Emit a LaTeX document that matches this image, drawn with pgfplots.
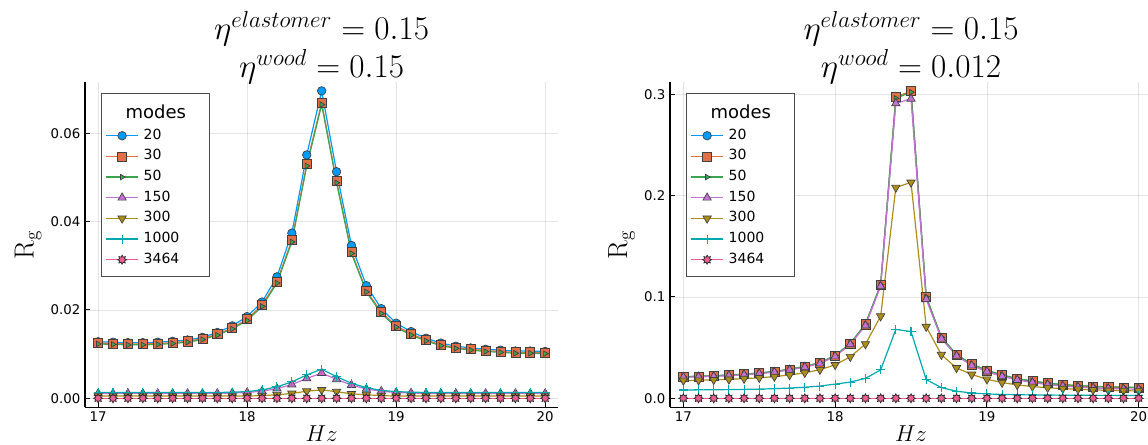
\documentclass[border=0pt]{standalone}
\usepackage[no-math]{fontspec}
\setmainfont{DejaVu Sans}
\usepackage{pgfplots}
\usepackage{pgfplotstable}
\pgfplotsset{compat=1.18}
\definecolor{c1}{RGB}{0,154,250}
\definecolor{c2}{RGB}{227,111,71}
\definecolor{c3}{RGB}{62,164,78}
\definecolor{c4}{RGB}{195,113,210}
\definecolor{c5}{RGB}{172,142,24}
\definecolor{c6}{RGB}{0,169,173}
\definecolor{c7}{RGB}{237,94,147}

\pgfdeclareplotmark{starviii}{%
  \pgfpathmoveto{\pgfqpointpolar{90}{\pgfplotmarksize}}%
  \pgfpathlineto{\pgfqpointpolar{112.5}{0.6\pgfplotmarksize}}%
  \pgfpathlineto{\pgfqpointpolar{135}{\pgfplotmarksize}}%
  \pgfpathlineto{\pgfqpointpolar{157.5}{0.6\pgfplotmarksize}}%
  \pgfpathlineto{\pgfqpointpolar{180}{\pgfplotmarksize}}%
  \pgfpathlineto{\pgfqpointpolar{202.5}{0.6\pgfplotmarksize}}%
  \pgfpathlineto{\pgfqpointpolar{225}{\pgfplotmarksize}}%
  \pgfpathlineto{\pgfqpointpolar{247.5}{0.6\pgfplotmarksize}}%
  \pgfpathlineto{\pgfqpointpolar{270}{\pgfplotmarksize}}%
  \pgfpathlineto{\pgfqpointpolar{292.5}{0.6\pgfplotmarksize}}%
  \pgfpathlineto{\pgfqpointpolar{315}{\pgfplotmarksize}}%
  \pgfpathlineto{\pgfqpointpolar{337.5}{0.6\pgfplotmarksize}}%
  \pgfpathlineto{\pgfqpointpolar{0}{\pgfplotmarksize}}%
  \pgfpathlineto{\pgfqpointpolar{22.5}{0.6\pgfplotmarksize}}%
  \pgfpathlineto{\pgfqpointpolar{45}{\pgfplotmarksize}}%
  \pgfpathlineto{\pgfqpointpolar{67.5}{0.6\pgfplotmarksize}}%
  \pgfpathclose
  \pgfusepathqfillstroke
}

\pgfplotstableread{
x s20 s30 s50 s150 s300 s1000 s3464
17.0 0.0128 0.0125 0.0123 0.0011 0.0005 0.0013 0
17.1 0.0127 0.0124 0.0122 0.0011 0.0005 0.0013 0
17.2 0.0126 0.0123 0.0121 0.0011 0.0005 0.0013 0
17.3 0.0126 0.0123 0.0121 0.0011 0.0005 0.0013 0
17.4 0.0127 0.0124 0.0122 0.0011 0.0005 0.0013 0
17.5 0.0129 0.0126 0.0124 0.0011 0.0005 0.0013 0
17.6 0.0132 0.0129 0.0127 0.0011 0.0005 0.0013 0
17.7 0.0138 0.0135 0.0133 0.0011 0.0005 0.0013 0
17.8 0.0149 0.0145 0.0143 0.0011 0.0005 0.0013 0
17.9 0.0164 0.0159 0.0157 0.0012 0.0005 0.0014 0
18.0 0.0185 0.0179 0.0176 0.0013 0.0005 0.0015 0
18.1 0.0218 0.0211 0.0208 0.0016 0.0006 0.0019 0
18.2 0.0275 0.0264 0.0261 0.0022 0.0008 0.0026 0
18.3 0.0374 0.0358 0.0354 0.0031 0.0011 0.0037 0
18.4 0.0551 0.0530 0.0526 0.0045 0.0016 0.0053 0
18.5 0.0696 0.0669 0.0665 0.0057 0.0019 0.0066 0
18.6 0.0513 0.0492 0.0488 0.0043 0.0015 0.0049 0
18.7 0.0346 0.0331 0.0328 0.0030 0.0010 0.0034 0
18.8 0.0255 0.0244 0.0241 0.0021 0.0008 0.0024 0
18.9 0.0203 0.0195 0.0192 0.0016 0.0006 0.0018 0
19.0 0.0170 0.0164 0.0161 0.0013 0.0005 0.0015 0
19.1 0.0151 0.0146 0.0143 0.0012 0.0005 0.0014 0
19.2 0.0136 0.0132 0.0130 0.0011 0.0005 0.0013 0
19.3 0.0125 0.0121 0.0119 0.0011 0.0005 0.0013 0
19.4 0.0118 0.0115 0.0113 0.0011 0.0005 0.0013 0
19.5 0.0114 0.0111 0.0109 0.0011 0.0005 0.0013 0
19.6 0.0111 0.0108 0.0106 0.0011 0.0005 0.0013 0
19.7 0.0109 0.0106 0.0104 0.0011 0.0005 0.0013 0
19.8 0.0107 0.0104 0.0102 0.0011 0.0005 0.0013 0
19.9 0.0107 0.0104 0.0102 0.0011 0.0005 0.0013 0
20.0 0.0106 0.0103 0.0101 0.0011 0.0005 0.0013 0
}\leftdata

\pgfplotstableread{
x s20 s30 s50 s150 s300 s1000 s3464
17.0 0.0212 0.0212 0.0214 0.0207 0.0175 0.0082 0
17.1 0.0216 0.0216 0.0218 0.0211 0.0178 0.0083 0
17.2 0.0221 0.0221 0.0223 0.0216 0.0182 0.0084 0
17.3 0.0228 0.0228 0.0230 0.0223 0.0187 0.0086 0
17.4 0.0237 0.0237 0.0239 0.0232 0.0194 0.0088 0
17.5 0.0248 0.0248 0.0250 0.0243 0.0202 0.0091 0
17.6 0.0263 0.0263 0.0265 0.0258 0.0214 0.0095 0
17.7 0.0285 0.0285 0.0287 0.0280 0.0230 0.0101 0
17.8 0.0313 0.0313 0.0315 0.0307 0.0252 0.0109 0
17.9 0.0350 0.0350 0.0352 0.0344 0.0282 0.0121 0
18.0 0.0420 0.0420 0.0422 0.0413 0.0330 0.0140 0
18.1 0.0540 0.0540 0.0542 0.0532 0.0410 0.0160 0
18.2 0.0730 0.0730 0.0732 0.0718 0.0535 0.0197 0
18.3 0.1120 0.1120 0.1120 0.1105 0.0810 0.0280 0
18.4 0.2970 0.2970 0.2960 0.2910 0.2080 0.0680 0
18.5 0.3030 0.3030 0.3020 0.2955 0.2130 0.0658 0
18.6 0.1000 0.1000 0.1002 0.0977 0.0707 0.0185 0
18.7 0.0600 0.0600 0.0602 0.0588 0.0430 0.0105 0
18.8 0.0430 0.0430 0.0432 0.0419 0.0300 0.0070 0
18.9 0.0335 0.0335 0.0337 0.0324 0.0235 0.0052 0
19.0 0.0275 0.0275 0.0277 0.0263 0.0188 0.0043 0
19.1 0.0228 0.0228 0.0230 0.0216 0.0155 0.0038 0
19.2 0.0193 0.0193 0.0195 0.0181 0.0132 0.0035 0
19.3 0.0168 0.0168 0.0170 0.0155 0.0116 0.0033 0
19.4 0.0148 0.0148 0.0150 0.0135 0.0104 0.0032 0
19.5 0.0133 0.0133 0.0135 0.0121 0.0096 0.0031 0
19.6 0.0123 0.0123 0.0125 0.0110 0.0089 0.0030 0
19.7 0.0116 0.0116 0.0118 0.0102 0.0083 0.0029 0
19.8 0.0111 0.0111 0.0113 0.0096 0.0078 0.0029 0
19.9 0.0107 0.0107 0.0109 0.0092 0.0075 0.0028 0
20.0 0.0105 0.0105 0.0107 0.0089 0.0072 0.0028 0
}\rightdata

\pgfplotsset{
  panel/.style={
    scale only axis, anchor=south west,
    height=244.2pt,
    xmin=16.912, xmax=20.088,
    xtick={17,18,19,20},
    axis x line*=bottom, axis y line*=left,
    axis line style={line width=0.9pt, black},
    tick align=inside, major tick length=4pt,
    tick style={line width=0.7pt, black},
    grid=major, grid style={black, opacity=0.1, line width=0.5pt},
    tick label style={font=\fontsize{10}{12}\selectfont, black},
    /pgf/number format/assume math mode=true,
    scaled y ticks=false,
    title style={font=\fontsize{25.5}{28.2}\selectfont, align=center, at={(0.5,1)}, anchor=south, inner sep=0pt, yshift=-7.6pt},
    xlabel={$Hz$}, ylabel={$\mathrm{R_g}$},
    label style={font=\fontsize{20}{24}\selectfont},
    xlabel style={font=\fontsize{17}{20}\selectfont, at={(axis description cs:0.5,0)}, anchor=base, inner sep=0pt, yshift=-25.6pt},
    legend style={at={(0,1)}, anchor=north west, xshift=11.8pt, yshift=-8.7pt,
      draw=black!70, line width=0.75pt, fill=white,
      inner xsep=3.2pt, inner ysep=4.6pt, row sep=0pt, column sep=3.75pt,
      font=\fontsize{10.5}{12}\selectfont,
      nodes={inner sep=0pt, inner ysep=2.75pt, text height=7.6pt, text depth=2.4pt, text width=46pt, align=left}},
    legend cell align=left,
    legend image code/.code={\draw[mark repeat=2,mark phase=2,##1] plot coordinates {(0pt,0pt) (12pt,0pt) (24pt,0pt)};},
  },
  p20/.style={c1, line width=0.9pt, mark=*, mark size=3.2pt, mark options={fill=c1, draw=black!75, line width=0.5pt}},
  p30/.style={c2, line width=0.9pt, mark=square*, mark size=3.4pt, mark options={fill=c2, draw=black!75, line width=0.5pt}},
  p50/.style={c3, line width=0.9pt, mark=triangle*, mark size=2.4pt, mark options={rotate=-90, fill=c3, draw=black!75, line width=0.5pt}},
  p150/.style={c4, line width=0.9pt, mark=triangle*, mark size=3.6pt, mark options={fill=c4, draw=black!75, line width=0.5pt}},
  p300/.style={c5, line width=0.9pt, mark=triangle*, mark size=3.6pt, mark options={rotate=180, fill=c5, draw=black!75, line width=0.5pt}},
  p1000/.style={c6, line width=0.9pt, mark=+, mark size=3.4pt, mark options={draw=c6, line width=0.8pt}},
  p3464/.style={c7, line width=0.9pt, mark=starviii, mark size=3.4pt, mark options={fill=c7, draw=black!85, line width=0.5pt}},
}

\newcommand{\legtitle}{\addlegendimage{empty legend}\addlegendentry[text height=11.2pt]{\hspace*{-27.75pt}\makebox[73.75pt][c]{\fontsize{13.5}{14}\selectfont modes}}}

\begin{document}
\begin{tikzpicture}
\useasboundingbox (0,0) rectangle (861pt,333.75pt);
\begin{axis}[panel, at={(63.75pt,28.275pt)}, width=354.98pt,
  ymin=-0.00204, ymax=0.07168,
  ytick={0,0.02,0.04,0.06},
  yticklabel style={/pgf/number format/fixed, /pgf/number format/fixed zerofill, /pgf/number format/precision=2},
  title={$\eta^{elastomer} = 0.15$\\$\eta^{wood} = 0.15$}]
\legtitle
\addplot[p20] table[x=x, y=s20] {\leftdata}; \addlegendentry{20}
\addplot[p30] table[x=x, y=s30] {\leftdata}; \addlegendentry{30}
\addplot[p50] table[x=x, y=s50] {\leftdata}; \addlegendentry{50}
\addplot[p150] table[x=x, y=s150] {\leftdata}; \addlegendentry{150}
\addplot[p300] table[x=x, y=s300] {\leftdata}; \addlegendentry{300}
\addplot[p1000] table[x=x, y=s1000] {\leftdata}; \addlegendentry{1000}
\addplot[p3464] table[x=x, y=s3464] {\leftdata}; \addlegendentry{3464}
\end{axis}
\begin{axis}[panel, at={(502.5pt,28.275pt)}, width=361.5pt,
  ymin=-0.00888, ymax=0.3124,
  ytick={0,0.1,0.2,0.3},
  yticklabel style={/pgf/number format/fixed, /pgf/number format/fixed zerofill, /pgf/number format/precision=1},
  title={$\eta^{elastomer} = 0.15$\\$\eta^{wood} = 0.012$}]
\legtitle
\addplot[p20] table[x=x, y=s20] {\rightdata}; \addlegendentry{20}
\addplot[p30] table[x=x, y=s30] {\rightdata}; \addlegendentry{30}
\addplot[p50] table[x=x, y=s50] {\rightdata}; \addlegendentry{50}
\addplot[p150] table[x=x, y=s150] {\rightdata}; \addlegendentry{150}
\addplot[p300] table[x=x, y=s300] {\rightdata}; \addlegendentry{300}
\addplot[p1000] table[x=x, y=s1000] {\rightdata}; \addlegendentry{1000}
\addplot[p3464] table[x=x, y=s3464] {\rightdata}; \addlegendentry{3464}
\end{axis}
\end{tikzpicture}
\end{document}
